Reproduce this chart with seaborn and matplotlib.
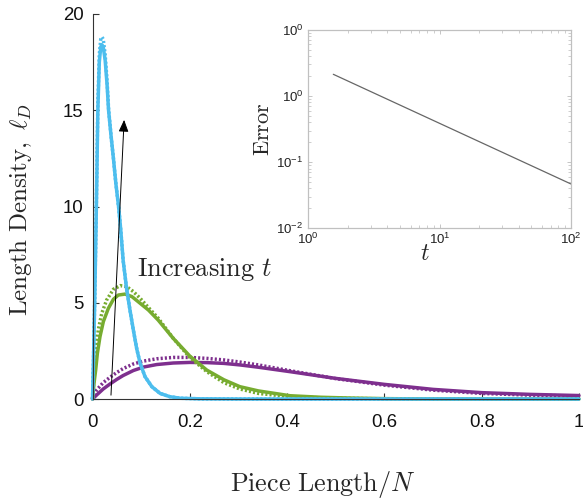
import numpy as np
import pandas as pd
import matplotlib
matplotlib.use("Agg")
import matplotlib.pyplot as plt
import seaborn as sns

# ---------------- data ----------------
blue_x = [0, 0.002, 0.0045, 0.008, 0.011, 0.014, 0.017, 0.0195, 0.022, 0.026, 0.03, 0.033,
          0.038, 0.043, 0.048, 0.054, 0.058, 0.063, 0.07, 0.077, 0.084, 0.091, 0.098,
          0.108, 0.122, 0.139, 0.159, 0.18, 0.22, 0.3, 1.0]
blue_solid = [0, 2, 5, 10, 15, 17.5, 18.3, 18.4, 18.3, 17.6, 16.3, 15,
              13.7, 12.5, 11.2, 9.9, 8.8, 7.2, 5.75, 4.62, 3.58, 2.6, 1.85,
              1.16, 0.64, 0.29, 0.12, 0.04, 0.01, 0, 0]
blue_dotted = [0, 2, 5.1, 10.2, 15.3, 17.9, 18.7, 18.8, 18.7, 17.9, 16.5, 15.1,
               13.7, 12.5, 11.2, 9.9, 8.8, 7.2, 5.75, 4.62, 3.58, 2.6, 1.85,
               1.16, 0.64, 0.29, 0.12, 0.04, 0.01, 0, 0]

green_solid_x = [0, 0.0031, 0.0065, 0.01, 0.0154, 0.0223, 0.0326, 0.043, 0.053, 0.067,
                 0.081, 0.098, 0.115, 0.135, 0.166, 0.2, 0.235, 0.27, 0.303, 0.341,
                 0.406, 0.47, 0.53, 0.6, 0.7, 1.0]
green_solid = [0, 0.81, 1.5, 2.37, 3.24, 4.02, 4.71, 5.18, 5.4, 5.45,
               5.32, 4.97, 4.62, 4.1, 3.15, 2.23, 1.5, 1.0, 0.64, 0.42,
               0.17, 0.09, 0.05, 0.02, 0, 0]
green_dotted_x = [0, 0.0031, 0.0065, 0.012, 0.019, 0.029, 0.043, 0.057, 0.07, 0.084,
                  0.098, 0.115, 0.135, 0.166, 0.2, 0.235, 0.27, 0.303, 0.341, 0.406,
                  0.47, 0.53, 0.6, 0.7, 1.0]
green_dotted = [0, 1.16, 2.37, 3.6, 4.45, 5.14, 5.7, 5.89, 5.84, 5.58,
                5.23, 4.75, 4.2, 3.15, 2.16, 1.42, 0.85, 0.52, 0.29, 0.12,
                0.06, 0.03, 0.01, 0, 0]

purple_x = [0, 0.0086, 0.022, 0.036, 0.05, 0.063, 0.084, 0.105, 0.132, 0.166, 0.2,
            0.235, 0.27, 0.303, 0.341, 0.406, 0.5, 0.6, 0.7, 0.8, 0.9, 1.0]
purple_solid = [0, 0.21, 0.52, 0.78, 1.02, 1.22, 1.48, 1.66, 1.79, 1.87, 1.9,
                1.89, 1.85, 1.77, 1.65, 1.42, 1.07, 0.76, 0.5, 0.33, 0.24, 0.18]
purple_dotted = [0, 0.47, 0.85, 1.13, 1.38, 1.58, 1.82, 1.97, 2.09, 2.16, 2.16,
                 2.11, 2.03, 1.92, 1.77, 1.47, 1.06, 0.72, 0.46, 0.29, 0.2, 0.15]

x_ticks = [0, 0.2, 0.4, 0.6, 0.8, 1.0]
x_tick_labels = ["0", "0.2", "0.4", "0.6", "0.8", "1"]
y_ticks = [0, 5, 10, 15, 20]
y_tick_labels = ["0", "5", "10", "15", "20"]

inset_t = [1.55, 100]
inset_err = [2.12, 0.0467]
inset_x_ticks = [1, 10, 100]
inset_x_labels = [r"$\mathregular{10^{0}}$", r"$\mathregular{10^{1}}$", r"$\mathregular{10^{2}}$"]
inset_y_ticks = [0.01, 0.1, 1, 10]
inset_y_labels = [r"$\mathregular{10^{-2}}$", r"$\mathregular{10^{-1}}$",
                  r"$\mathregular{10^{0}}$", r"$\mathregular{10^{0}}$"]

# ---------------- style ----------------
sns.set_theme(style="ticks")
plt.rcParams["font.family"] = ["Liberation Sans", "DejaVu Sans"]
plt.rcParams["mathtext.fontset"] = "cm"

BLUE = "#4dbeee"
GREEN = "#77ac30"
PURPLE = "#7e2f8e"

fig = plt.figure(figsize=(5.83, 5.0), dpi=100)
ax = fig.add_axes([92.5 / 583, 1 - 399 / 500, (579 - 92.5) / 583, (399 - 14) / 500])

lw = 2.5
dot = (0, (0.6, 0.6))
series = [
    (purple_x, purple_solid, PURPLE, "-"),
    (purple_x, purple_dotted, PURPLE, dot),
    (green_solid_x, green_solid, GREEN, "-"),
    (green_dotted_x, green_dotted, GREEN, dot),
    (blue_x, blue_dotted, BLUE, dot),
    (blue_x, blue_solid, BLUE, "-"),
]
for xs, ys, col, ls in series:
    df = pd.DataFrame({"x": xs, "y": ys})
    sns.lineplot(data=df, x="x", y="y", ax=ax, color=col, linewidth=lw,
                 linestyle=ls, sort=False, estimator=None, clip_on=False,
                 solid_joinstyle="round")

ax.set_xlim(0, 1)
ax.set_ylim(0, 20)
ax.set_xticks(x_ticks)
ax.set_xticklabels(x_tick_labels)
ax.set_yticks(y_ticks)
ax.set_yticklabels(y_tick_labels)
ax.tick_params(direction="in", length=4, width=0.8, labelsize=13.4, colors="#333333",
               labelcolor="#111111")
ax.tick_params(axis="x", pad=11)
ax.tick_params(axis="y", pad=6.5)
for s in ["top", "right"]:
    ax.spines[s].set_visible(False)
for s in ["left", "bottom"]:
    ax.spines[s].set_color("#333333")
    ax.spines[s].set_linewidth(0.8)
ax.set_xlabel("")
ax.set_ylabel("")

fig.text(21 / 583, 1 - 210 / 500, r"$\mathrm{Length\ Density,}\ \ell_D$", rotation=90,
         ha="center", va="center", fontsize=18)
fig.text(323 / 583, 1 - 490.7 / 500, r"$\mathrm{Piece\ Length}/N$",
         ha="center", va="baseline", fontsize=18.8)

ax.annotate("", xy=(0.065, 14.5), xytext=(0.038, 0.2),
            arrowprops=dict(arrowstyle="-|>,head_length=0.6,head_width=0.25",
                            color="black", lw=0.7, shrinkA=0, shrinkB=0))
ax.text(0.0916, 6.39, r"$\mathrm{Increasing}\ t$", ha="left", va="baseline", fontsize=19)

# ---------------- inset ----------------
ins = fig.add_axes([308.3 / 583, 1 - 228.3 / 500, (571 - 308.3) / 583, (228.3 - 29.7) / 500])
idf = pd.DataFrame({"t": inset_t, "err": inset_err})
sns.lineplot(data=idf, x="t", y="err", ax=ins, color="#666666", linewidth=0.9)
ins.set_xscale("log")
ins.set_yscale("log")
ins.set_xlim(1, 100)
ins.set_ylim(0.01, 10)
ins.set_xticks(inset_x_ticks)
ins.set_xticklabels(inset_x_labels)
ins.set_yticks(inset_y_ticks)
ins.set_yticklabels(inset_y_labels)
ins.tick_params(which="both", direction="in", top=True, right=True, colors="#bbbbbb",
                labelcolor="#222222", labelsize=9.5)
ins.tick_params(axis="x", pad=2.5)
ins.tick_params(axis="y", pad=3.5)
ins.tick_params(which="major", length=3, width=0.6)
ins.tick_params(which="minor", length=2, width=0.5)
for s in ins.spines.values():
    s.set_color("#c0c0c0")
    s.set_linewidth(0.9)
ins.set_xlabel(r"$t$", fontsize=17)
ins.xaxis.set_label_coords(0.444, -0.075)
ins.set_ylabel(r"$\mathrm{Error}$", fontsize=16, labelpad=2)

fig.savefig("out.png", dpi=100)
